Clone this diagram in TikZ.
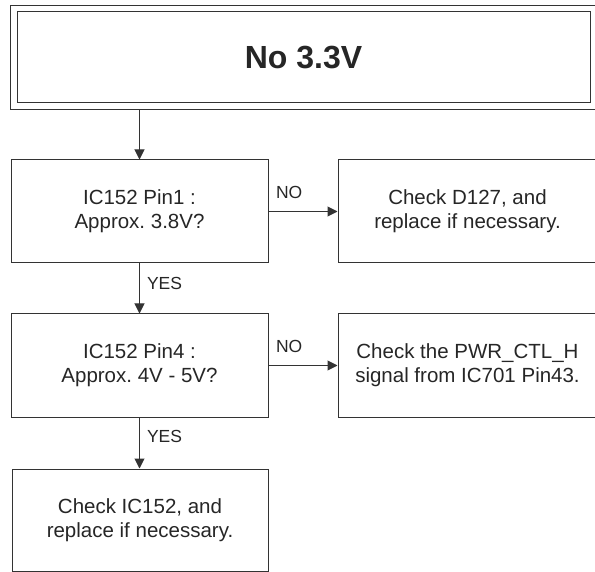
\documentclass[tikz,border=0pt]{standalone}
\usepackage{fontspec}
\setmainfont{Liberation Sans}
\usepackage{tikz}
\usetikzlibrary{positioning,arrows.meta}

\begin{document}
\frenchspacing
\begin{tikzpicture}[x=1pt,y=-1pt,line width=1pt,
	every node/.style={text=black!85},
	box/.style={draw=black!80,rectangle,minimum width=257pt,minimum height=103pt,inner sep=0pt,align=center,font=\fontsize{20.5}{24}\selectfont},
	lbl/.style={font=\fontsize{17.5}{20}\selectfont,inner sep=0pt},
	arr/.style={draw=black!80,-{Triangle[length=10pt,width=10pt]}}]
		\useasboundingbox (0,0) rectangle (595,572);

		%title
		\node[draw=black!80,minimum width=573pt,minimum height=91pt,inner sep=0pt,font=\fontsize{32}{38}\selectfont\bfseries] (title) at (303.5,57.5) {No 3.3V};
		\draw[black!80] ([shift={(-6pt,6pt)}]title.north west) rectangle ([shift={(7pt,-6pt)}]title.south east);

		%left nodes
		\node[box] (pin1) at (139.5,211.5) {IC152 Pin1 :\\Approx. 3.8V?};
		\node[box] (pin4) at (139.5,365.5) {IC152 Pin4 :\\Approx. 4V - 5V?};
		\node[box,minimum width=256pt,minimum height=102pt] (ic152) at (140,520) {Check IC152, and\\replace if necessary.};

		%right nodes
		\node[box,minimum width=259pt] (d127) at (467.5,211.5) {Check D127, and\\replace if necessary.};
		\node[box,minimum width=259pt] (pwr) at (467.5,365.5) {Check the PWR\_CTL\_H\\signal from IC701 Pin43.};

		%edges
		\draw[arr] (title.south -| pin1.north) ++(0,6) -- (pin1.north);
		\draw[arr] (pin1) -- node[lbl,above=12pt,pos=.3] {NO} (d127);
		\draw[arr] (pin1) -- node[lbl,right=7pt,pos=.39] {YES} (pin4);
		\draw[arr] (pin4) -- node[lbl,above=12pt,pos=.3] {NO} (pwr);
		\draw[arr] (pin4.south) -- node[lbl,right=7pt,pos=.38] {YES} (pin4.south |- ic152.north);
	\end{tikzpicture}
\end{document}
